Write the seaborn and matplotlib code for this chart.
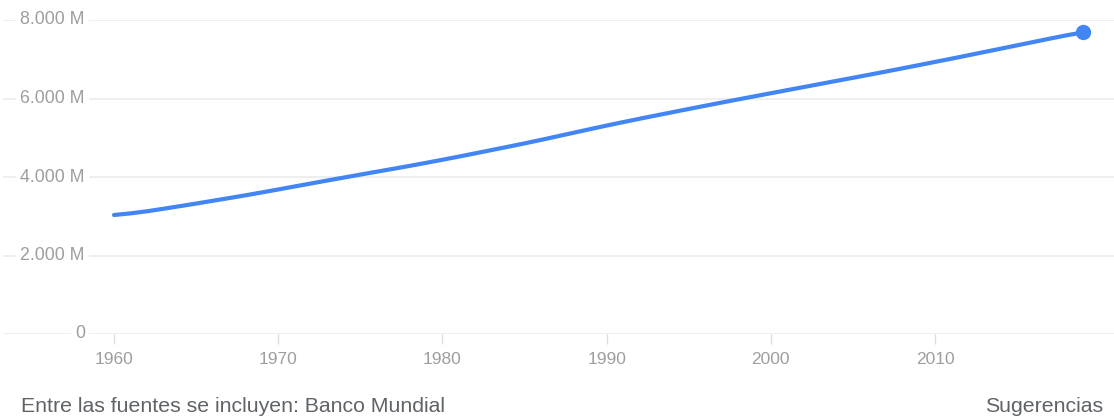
import pandas as pd
import matplotlib
matplotlib.use("Agg")
import matplotlib.pyplot as plt
import seaborn as sns

# World population, millions (World Bank), 1960-2019
years = list(range(1960, 2020))
population = [3032, 3073, 3126, 3190, 3256, 3323, 3393, 3462, 3533, 3607,
              3682, 3759, 3835, 3911, 3986, 4061, 4135, 4208, 4283, 4360,
              4439, 4520, 4603, 4687, 4771, 4856, 4945, 5036, 5128, 5220,
              5310, 5398, 5483, 5567, 5650, 5733, 5815, 5896, 5976, 6055,
              6134, 6213, 6291, 6370, 6449, 6527, 6606, 6686, 6767, 6849,
              6932, 7014, 7099, 7184, 7269, 7355, 7440, 7526, 7609, 7684]
y_ticks = [0, 2000, 4000, 6000, 8000]
y_labels = ["0", "2.000 M", "4.000 M", "6.000 M", "8.000 M"]
x_ticks = [1960, 1970, 1980, 1990, 2000, 2010]
source_text = "Entre las fuentes se incluyen: Banco Mundial"
link_text = "Sugerencias"

df = pd.DataFrame({"year": years, "pop": population})

sns.set_theme(style="white")
plt.rcParams['font.family'] = ['Liberation Sans', 'DejaVu Sans']

blue = "#4285f4"
grid_c = "#ebebeb"
tick_c = "#9e9e9e"

fig = plt.figure(figsize=(11.14, 4.2), dpi=100)
ax = fig.add_axes([3 / 1114, 86 / 420, 1111 / 1114, 314 / 420])

sns.lineplot(x="year", y="pop", data=df, color=blue, linewidth=3, ax=ax, clip_on=False)
ax.plot(years[-1:], population[-1:], "o", color=blue, markersize=10, clip_on=False, zorder=5)

ax.set_xlim(1960 - 111 / 16.42, 1960 + 1000 / 16.42)
ax.set_ylim(0, 8000)

for y in y_ticks:
    ax.axhline(y, color=grid_c, linewidth=1.2, zorder=0)

ax.set_yticks([])
for y, lab in zip(y_ticks, y_labels):
    ax.text(82 / 1111, y, lab, transform=ax.get_yaxis_transform(), ha="right", va="center",
            fontsize=12.8, color=tick_c, zorder=1,
            bbox=dict(boxstyle="square,pad=0.25", fc="white", ec="none"))

ax.set_xticks(x_ticks)
ax.set_xticklabels([str(x) for x in x_ticks], fontsize=12.5, color=tick_c)
ax.tick_params(axis="x", length=7, width=1, color="#dddddd", pad=6, direction="out")
ax.xaxis.set_ticks_position("bottom")
ax.set_xlabel("")
ax.set_ylabel("")
sns.despine(ax=ax, left=True, right=True, top=True, bottom=True)

fig.text(21 / 1114, 1 - 406 / 420, source_text, ha="left", va="center", fontsize=15.3, color="#5f6368")
fig.text(1103 / 1114, 1 - 406 / 420, link_text, ha="right", va="center", fontsize=15.3, color="#5f6368")

fig.savefig("out.png", dpi=100, facecolor="white")
